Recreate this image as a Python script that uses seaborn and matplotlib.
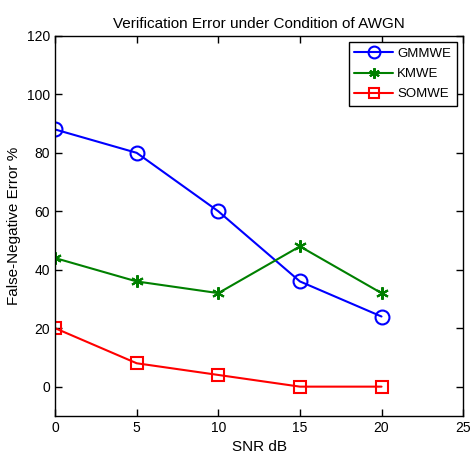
import matplotlib
matplotlib.use("Agg")
import matplotlib.pyplot as plt
from matplotlib.lines import Line2D
import seaborn as sns
import pandas as pd

snr = [0, 5, 10, 15, 20]
gmmwe = [88, 80, 60, 36, 24]
kmwe = [44, 36, 32, 48, 32]
somwe = [20, 8, 4, 0, 0]
x_ticks = [0, 5, 10, 15, 20, 25]
y_ticks = [0, 20, 40, 60, 80, 100, 120]

sns.set_style("ticks")
plt.rcParams['font.family'] = ['Liberation Sans', 'DejaVu Sans']
for k in ['text.color', 'axes.labelcolor', 'xtick.color', 'ytick.color', 'axes.edgecolor']:
    plt.rcParams[k] = 'black'

fig = plt.figure(figsize=(4.75, 4.55), dpi=100)
ax = fig.add_axes([0.116, 0.086, 0.859, 0.835])

df = pd.DataFrame({"SNR": snr * 3,
                   "err": gmmwe + kmwe + somwe,
                   "method": ["GMMWE"] * 5 + ["KMWE"] * 5 + ["SOMWE"] * 5})
styles = {"GMMWE": ("#0000ff", "o", 10), "KMWE": ("#008000", (6, 2, 0), 9), "SOMWE": ("#ff0000", "s", 8)}
handles = []
for name in ["GMMWE", "KMWE", "SOMWE"]:
    c, m, ms = styles[name]
    sub = df[df.method == name]
    mk = dict(marker=m, markersize=ms, markerfacecolor='none', markeredgecolor=c, markeredgewidth=1.5)
    sns.lineplot(data=sub, x="SNR", y="err", ax=ax, color=c, linewidth=1.5, legend=False, **mk)
    hk = dict(mk)
    hk['markersize'] = ms * 0.85
    handles.append(Line2D([], [], color=c, linewidth=1.5, **hk))

ax.set_xlim(0, 25)
ax.set_ylim(-10, 120)
ax.set_xticks(x_ticks)
ax.set_yticks(y_ticks)
ax.tick_params(direction='in', top=True, right=True, labelsize=10, length=5, width=1, colors='black')
for s in ax.spines.values():
    s.set_visible(True)
    s.set_linewidth(1)
    s.set_color('black')
ax.set_title("Verification Error under Condition of AWGN", fontsize=11)
ax.set_xlabel("SNR dB", fontsize=11)
ax.set_ylabel("False-Negative Error %", fontsize=11)
leg = ax.legend(handles, ["GMMWE", "KMWE", "SOMWE"], loc='upper right', fancybox=False,
                edgecolor='black', framealpha=1, fontsize=9.5, numpoints=1,
                handlelength=2.9, handletextpad=0.35, borderaxespad=0.45,
                labelspacing=0.6, borderpad=0.45)
leg.get_frame().set_linewidth(1)
fig.savefig("out.png", dpi=100)
